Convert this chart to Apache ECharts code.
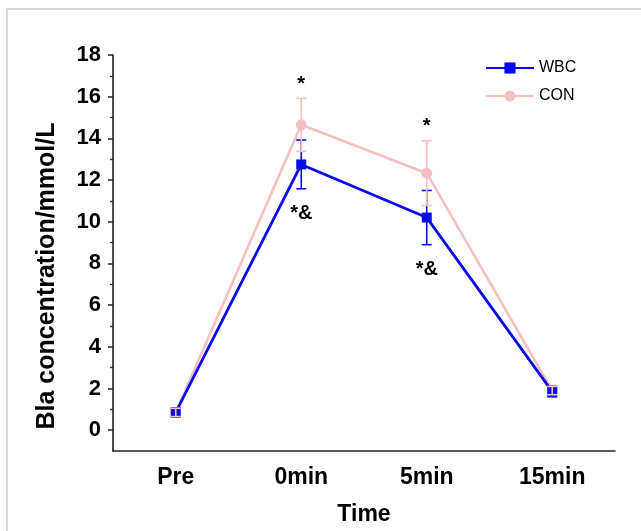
<!DOCTYPE html>
<html>
<head>
<meta charset="utf-8">
<script src="https://cdn.jsdelivr.net/npm/echarts@6/dist/echarts.min.js"></script>
<style>
  html, body { margin: 0; padding: 0; background: #fff; }
  #myEcharts { width: 641px; height: 531px; }
</style>
</head>
<body>
<div id="myEcharts"></div>
<script>
// data
const categories = ['Pre', '0min', '5min', '15min'];
const wbcMean = [0.85, 12.75, 10.2, 1.85];
const wbcErr = [0.22, 1.17, 1.3, 0.25];
const conMean = [0.85, 14.65, 12.33, 1.9];
const conErr = [0.2, 1.27, 1.55, 0.2];
const sigAbove = ['', '*', '*', ''];   // over CON upper bar
const sigBelow = ['', '*&', '*&', '']; // under WBC lower bar
const yTickValues = [0, 2, 4, 6, 8, 10, 12, 14, 16, 18];
const yMinorValues = [1, 3, 5, 7, 9, 11, 13, 15, 17];

const FONT = "'Liberation Sans', Arial, sans-serif";
const BLUE = '#0a0aee';
const PINK = '#f5c0bf';

function errData(mean, err) {
  return mean.map((m, i) => [i, m - err[i], m + err[i]]);
}

function errRender(color) {
  return function (params, api) {
    const lo = api.coord([api.value(0), api.value(1)]);
    const hi = api.coord([api.value(0), api.value(2)]);
    const w = 5;
    const st = { stroke: color, lineWidth: 1.6 };
    return {
      type: 'group',
      children: [
        { type: 'line', shape: { x1: hi[0], y1: hi[1], x2: lo[0], y2: lo[1] }, style: st },
        { type: 'line', shape: { x1: hi[0] - w, y1: hi[1], x2: hi[0] + w, y2: hi[1] }, style: st },
        { type: 'line', shape: { x1: lo[0] - w, y1: lo[1], x2: lo[0] + w, y2: lo[1] }, style: st }
      ]
    };
  };
}

function sigRender(texts, offset) {
  return function (params, api) {
    const p = api.coord([api.value(0), api.value(1)]);
    return {
      type: 'text',
      style: {
        text: texts[params.dataIndex],
        x: p[0], y: p[1] + offset,
        fill: '#000',
        font: 'bold 20px ' + FONT,
        align: 'center', verticalAlign: 'middle'
      }
    };
  };
}

const chart = echarts.init(document.getElementById('myEcharts'));
chart.setOption({
  animation: false,
  textStyle: { fontFamily: FONT },
  graphic: [{
    type: 'rect',
    shape: { x: 7, y: 9, width: 700, height: 600 },
    style: { fill: 'none', stroke: '#cccccc', lineWidth: 1.5 },
    silent: true
  }, {
    type: 'text',
    x: 47, y: 276,
    rotation: Math.PI / 2,
    style: {
      text: 'Bla concentration/mmol/L',
      font: 'bold 25px ' + FONT,
      fill: '#000',
      align: 'center', verticalAlign: 'middle'
    }
  }],
  legend: {
    orient: 'vertical',
    left: 485,
    top: 60,
    padding: 0,
    itemWidth: 48,
    itemHeight: 14,
    itemGap: 12,
    data: ['WBC', 'CON'],
    textStyle: { fontSize: 16, color: '#000', fontFamily: FONT }
  },
  grid: { left: 113, right: 26, top: 55, bottom: 74 },
  xAxis: {
    type: 'category',
    data: categories,
    boundaryGap: true,
    name: 'Time',
    nameLocation: 'middle',
    nameGap: 52,
    nameTextStyle: { fontSize: 23, fontWeight: 'bold', color: '#000' },
    axisLine: { onZero: false, lineStyle: { color: '#222', width: 1.6 } },
    axisTick: { alignWithLabel: true, length: 6, lineStyle: { color: '#222', width: 1.5 } },
    axisLabel: { fontSize: 23, fontWeight: 'bold', color: '#000', margin: 15 }
  },
  yAxis: [{
    type: 'value',
    min: -1,
    max: 18,
    splitLine: { show: false },
    axisLine: { show: true, lineStyle: { color: '#222', width: 1.6 } },
    axisTick: { show: true, length: 5, customValues: yTickValues, lineStyle: { color: '#222', width: 1.5 } },
    axisLabel: { fontSize: 22, fontWeight: 'bold', color: '#000', margin: 12, customValues: yTickValues }
  }, {
    type: 'value',
    min: -1,
    max: 18,
    position: 'left',
    offset: 0,
    splitLine: { show: false },
    axisLine: { show: false },
    axisTick: { show: true, length: 3, customValues: yMinorValues, lineStyle: { color: '#222', width: 1.3 } },
    axisLabel: { show: false }
  }],
  series: [{
    name: 'CON',
    type: 'line',
    data: conMean,
    symbol: 'circle',
    symbolSize: 11,
    lineStyle: { color: PINK, width: 2.6 },
    itemStyle: { color: PINK },
    z: 2
  }, {
    name: 'WBC',
    type: 'line',
    data: wbcMean,
    symbol: 'rect',
    symbolSize: 10,
    lineStyle: { color: BLUE, width: 2.8 },
    itemStyle: { color: BLUE },
    z: 3
  }, {
    type: 'custom',
    renderItem: errRender(BLUE),
    data: errData(wbcMean, wbcErr),
    z: 4
  }, {
    type: 'custom',
    renderItem: errRender(PINK),
    data: errData(conMean, conErr),
    z: 5
  }, {
    type: 'custom',
    renderItem: sigRender(sigAbove, -14),
    data: conMean.map((m, i) => [i, m + conErr[i]]),
    z: 6
  }, {
    type: 'custom',
    renderItem: sigRender(sigBelow, 25),
    data: wbcMean.map((m, i) => [i, m - wbcErr[i]]),
    z: 6
  }]
});
</script>
</body>
</html>
